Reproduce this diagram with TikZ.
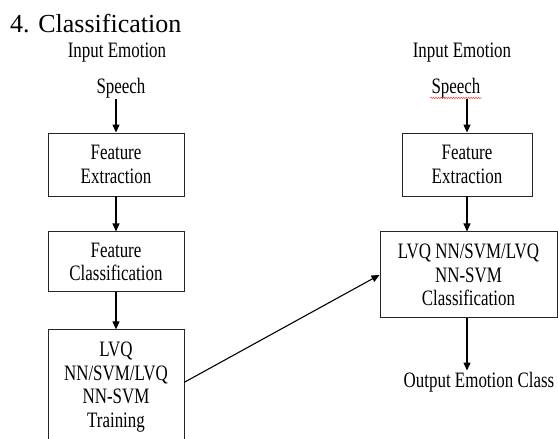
\documentclass[tikz,border=0pt]{standalone}
\usepackage{fontspec}
\setmainfont{Liberation Serif}
\newfontfamily\narrowserif[FakeStretch=0.77]{Liberation Serif}
\usetikzlibrary{
    arrows.meta,
    positioning,
    decorations.pathmorphing
}
\tikzstyle{stage} = [
    rectangle,
    draw=black!85,
    line width=0.9pt,
    minimum width=136pt,
    minimum height=63pt,
    align=center,
    inner sep=2pt,
    font=\narrowserif\fontsize{22}{23.5}\selectfont
]
\tikzstyle{textlabel} = [
    inner sep=1pt,
    font=\narrowserif\fontsize{22}{23.5}\selectfont
]
\tikzstyle{flow} = [
    -{Triangle[length=8pt,width=7pt]},
    line width=1.1pt,
    draw=black
]
\begin{document}
\begin{tikzpicture}[x=1pt, y=1pt]
        \useasboundingbox (0,0) rectangle (558,-439);
        % Title
        \node[anchor=base west, inner sep=0, font=\fontsize{26}{30}\selectfont] (title) at (10,-32) {4. Classification};

        % Training branch
        \node[textlabel, anchor=base] (inputL) at (117,-57) {Input Emotion};
        \node[textlabel, anchor=base] (speechL) at (121,-93) {Speech};
        \node[stage] (extractL) at (116,-164.5) {Feature\\Extraction};
        \node[stage, minimum height=60pt, below=35pt of extractL] (featcls) {Feature\\Classification};
        \node[stage, inner ysep=12.5pt, below=37pt of featcls] (train) {LVQ\\NN/SVM/LVQ\\NN-SVM\\Training};

        \draw[flow] (speechL.south -| extractL.north) -- (extractL.north);
        \draw[flow] (extractL) -- (featcls);
        \draw[flow] (featcls) -- (train);

        % Testing branch
        \node[textlabel, anchor=base] (inputR) at (462,-57) {Input Emotion};
        \node[textlabel, anchor=base] (speechR) at (456,-93) {Speech};
        \draw[red!80, line width=0.5pt, decorate, decoration={snake, amplitude=0.7pt, segment length=2.5pt}]
            ([yshift=1pt]speechR.south west) -- ([yshift=1pt]speechR.south east);
        \node[stage, minimum width=130pt] (extractR) at (467,-164.5) {Feature\\Extraction};
        \node[stage, minimum width=177pt, minimum height=86pt, below=35pt of extractR, xshift=1.5pt] (classify) {LVQ NN/SVM/LVQ\\NN-SVM\\Classification};
        \node[textlabel, anchor=base] (output) at (479,-387) {Output Emotion Class};

        \draw[flow] (speechR.south -| extractR.north) -- (extractR.north);
        \draw[flow] (extractR) -- (extractR |- classify.north);
        \draw[flow] (classify.south -| extractR) -- (output.north -| extractR);

        % Trained model to classifier
        \draw[flow] ([yshift=5pt]train.east) -- (classify.west);
    \end{tikzpicture}
\end{document}
